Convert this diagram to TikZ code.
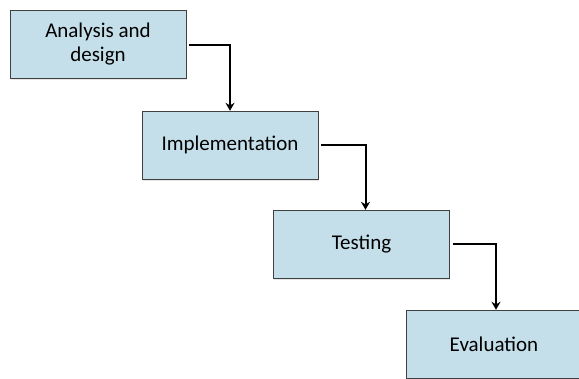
\documentclass[tikz,border=0pt]{standalone}
\usepackage{fontspec}
\setmainfont{Carlito}
\usepackage{xcolor}
\usetikzlibrary{positioning,arrows.meta,shadows}

\definecolor{stageblue}{HTML}{C4DFE9}

\begin{document}
\begin{tikzpicture}[x=1pt, y=-1pt,
  stage/.style={draw=black!75, fill=stageblue, minimum width=176pt, minimum height=68pt,
    align=center, font=\fontsize{21}{24}\selectfont,
    drop shadow={opacity=0.2, shadow xshift=0.5pt, shadow yshift=-1.5pt}},
  flow/.style={-{Stealth[length=8pt,width=9pt]}, line width=2pt, shorten <=3pt}]
\useasboundingbox (0,0) rectangle (579,378);

\node[stage] (analysis) at (98,44.5) {Analysis and\\design};
\node[stage] (implementation) at (230,145) {Implementation};
\node[stage] (testing) at (361.5,244) {Testing};
\node[stage] (evaluation) at (494,344) {Evaluation};

\draw[flow] (analysis.east) -| (implementation.north);
\draw[flow] (implementation.east) -| ([xshift=4pt]testing.north);
\draw[flow] (testing.east) -| ([xshift=2pt]evaluation.north);

\end{tikzpicture}
\end{document}
